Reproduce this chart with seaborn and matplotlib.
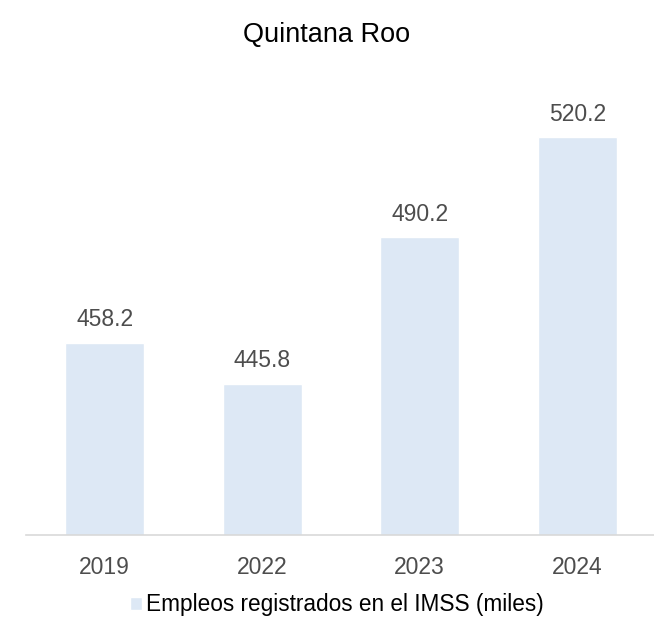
import matplotlib
matplotlib.use("Agg")
import matplotlib.pyplot as plt
import pandas as pd
import seaborn as sns

years = ["2019", "2022", "2023", "2024"]
empleos = [458.2, 445.8, 490.2, 520.2]
serie = "Empleos registrados en el IMSS (miles)"

df = pd.DataFrame({"anio": years, "valor": empleos})

sns.set_style("white")
plt.rcParams["font.family"] = ["Liberation Sans", "DejaVu Sans"]

gris = "#4D4D4D"
azul = "#DDE8F5"

fig = plt.figure(figsize=(6.54, 6.29), dpi=100)
ax = fig.add_axes([26 / 654, (629 - 535) / 629, 630 / 654, (535 - 72) / 629])

sns.barplot(data=df, x="anio", y="valor", color=azul, width=0.5,
            saturation=1, ax=ax, label=serie)

ax.set_ylim(400, 540)
for p, v in zip(ax.patches, empleos):
    ax.annotate(f"{v:.1f}", (p.get_x() + p.get_width() / 2, v),
                xytext=(0, 8), textcoords="offset points",
                ha="center", va="bottom", fontsize=16.5, color=gris)

sns.despine(ax=ax, left=True)
ax.spines["bottom"].set_color("#D9D9D9")
ax.spines["bottom"].set_linewidth(1.2)
ax.set_yticks([])
ax.set_xlabel("")
ax.set_ylabel("")
ax.tick_params(axis="x", length=0, labelsize=16.5, colors=gris, pad=15)

fig.suptitle("Quintana Roo", y=1 - 35 / 629, va="center", fontsize=19.5, color="#000000")

leg = ax.legend(loc="center", bbox_to_anchor=(0.5 - 4 / 630, (535 - 605) / 463),
                frameon=False, fontsize=16.3, handlelength=0.5, handleheight=0.5,
                handletextpad=0.2)
for t in leg.get_texts():
    t.set_color("#000000")

fig.savefig("out.png", dpi=100)
